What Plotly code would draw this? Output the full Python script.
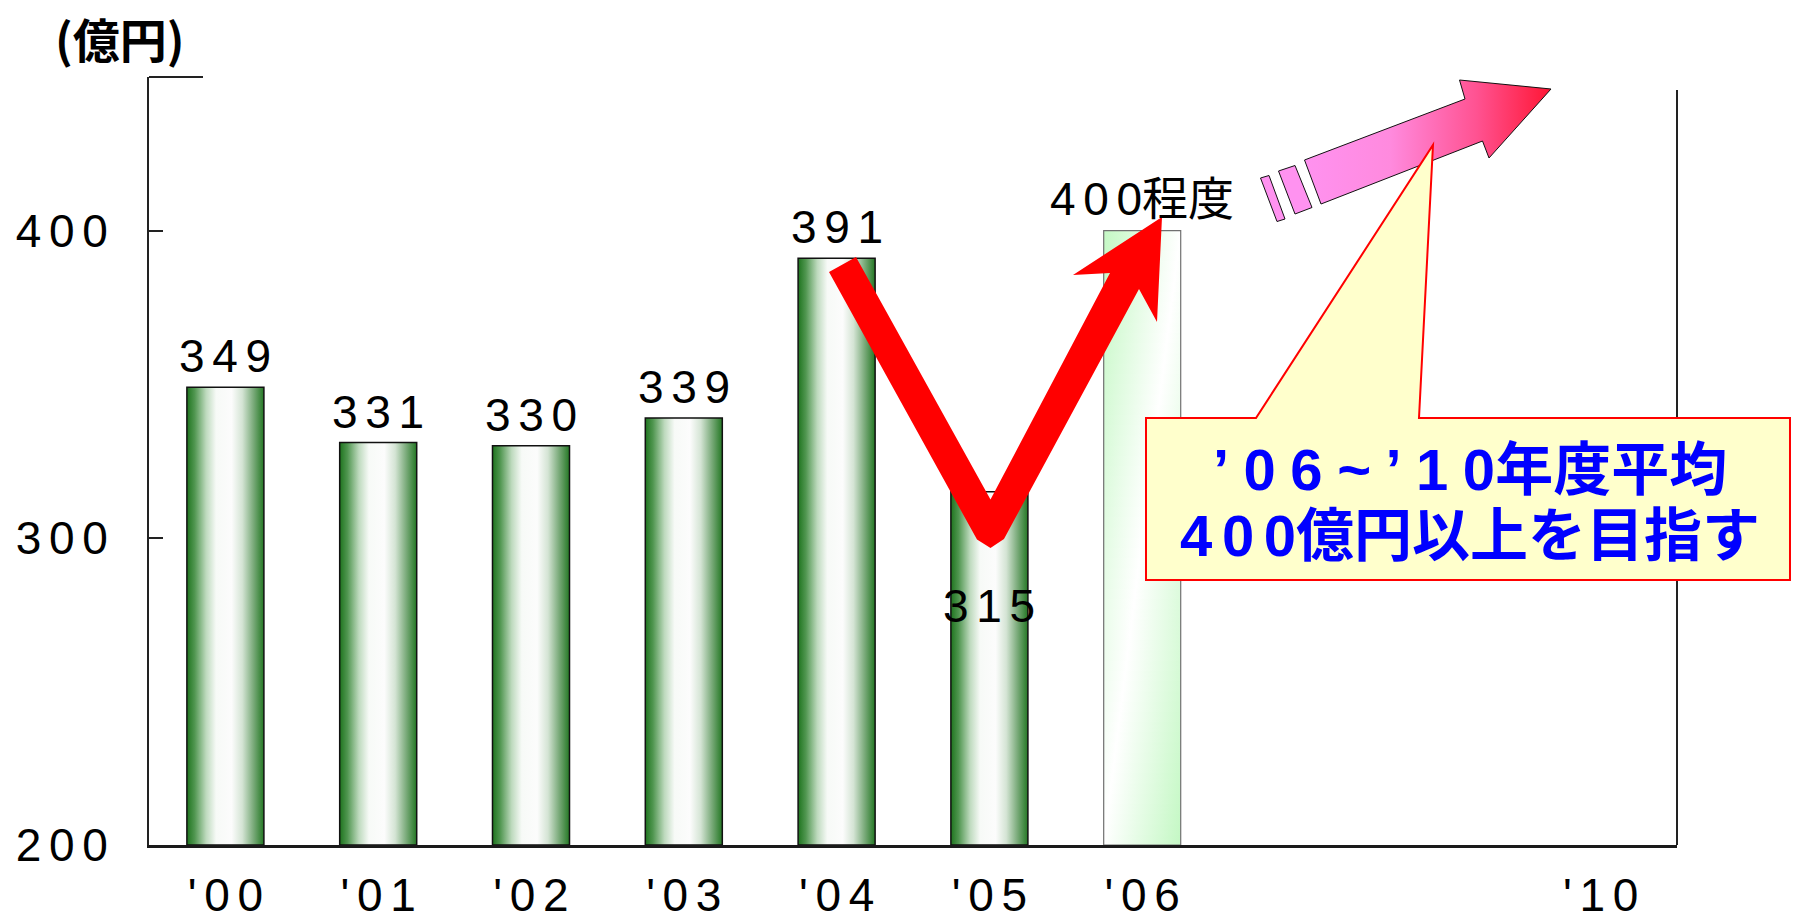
import plotly.graph_objects as go

# Fiscal-year sales (億円); '06 is the planned level
years = ["'00", "'01", "'02", "'03", "'04", "'05", "'06"]
sales = [349, 331, 330, 339, 391, 315, 400]
value_labels = ["349", "331", "330", "339", "391", "315", "400程度"]
# category slots on the x axis: '07-'09 left blank, '10 in the last slot
slot_labels = ["'00", "'01", "'02", "'03", "'04", "'05", "'06", "", "", "'10"]
y_ticks = [200, 300, 400]
unit_title = "(億円)"
callout_lines = ["’06~’10年度平均", "400億円以上を目指す"]

# label placement relative to bar top, in px (+ above, - below)
label_shift = [31, 31, 31, 31, 31, -114, 32]

FIG_W, FIG_H = 1793, 921
PLOT_L, PLOT_R, PLOT_T, PLOT_B = 149, 1677, 77, 845
X_RANGE = [-0.5, 9.5]
Y_RANGE = [200, 450]
BAR_HALF = 0.252

NUM_FONT = "Liberation Sans, Arial, Noto Sans CJK JP, sans-serif"
JP_FONT = "Noto Sans CJK JP, sans-serif"
SIX_PER_EM = "\u2006"
FOUR_PER_EM = "\u2005"


def is_wide(c):
    return "\u3000" <= c <= "\u9fff"


def spread(s, sp=SIX_PER_EM):
    """Open up narrow glyph runs the way the chart's digits are tracked."""
    out = ""
    for i, c in enumerate(s):
        if i > 0 and not is_wide(c) and not is_wide(s[i - 1]):
            out += sp
        out += c
    return out


def px_to_data(px, py):
    x = X_RANGE[0] + (px - PLOT_L) / (PLOT_R - PLOT_L) * (X_RANGE[1] - X_RANGE[0])
    y = Y_RANGE[0] + (PLOT_B - py) / (PLOT_B - PLOT_T) * (Y_RANGE[1] - Y_RANGE[0])
    return x, y


def px_to_paper(px, py):
    return (px - PLOT_L) / (PLOT_R - PLOT_L), (PLOT_B - py) / (PLOT_B - PLOT_T)


def paper_path(points):
    pts = [px_to_paper(*p) for p in points]
    return "M " + " L ".join(f"{x:.5f},{y:.5f}" for x, y in pts) + " Z"


GREEN_CS = [
    [0.00, "rgb(30,116,30)"],
    [0.10, "rgb(80,150,80)"],
    [0.25, "rgb(190,218,190)"],
    [0.38, "rgb(247,250,247)"],
    [0.58, "rgb(252,252,252)"],
    [0.72, "rgb(212,228,212)"],
    [0.87, "rgb(118,168,118)"],
    [1.00, "rgb(36,120,36)"],
]
PLAN_CS = [[0.0, "rgb(196,248,196)"], [0.5, "rgb(255,255,255)"], [1.0, "rgb(196,248,196)"]]
PINK_CS = [
    [0.0, "rgb(255,146,240)"],
    [0.35, "rgb(255,138,222)"],
    [0.70, "rgb(255,82,145)"],
    [1.0, "rgb(255,22,52)"],
]

fig = go.Figure()
base = Y_RANGE[0]

# actual years: cylinder-shaded bars
for i, v in enumerate(sales[:-1]):
    x0, x1 = i - BAR_HALF, i + BAR_HALF
    fig.add_trace(go.Scatter(
        x=[x0, x1, x1, x0, x0], y=[base, base, v, v, base],
        mode="lines", fill="toself",
        fillgradient=dict(type="horizontal", colorscale=GREEN_CS, start=x0, stop=x1),
        line=dict(color="#111111", width=1.5),
        hoverinfo="skip", showlegend=False,
    ))

# planned year: pale bar with a diagonal sheen, built from thin bands
i_plan = len(sales) - 1
v_plan = sales[-1]
x0, x1 = i_plan - BAR_HALF, i_plan + BAR_HALF
n_bands = 60
for k in range(n_bands):
    ya = base + (v_plan - base) * k / n_bands
    yb = min(v_plan, base + (v_plan - base) * (k + 1) / n_bands + 0.4)
    t = 1 - (k + 0.5) / n_bands
    xw = x1 - t * (x1 - x0)
    fig.add_trace(go.Scatter(
        x=[x0, x1, x1, x0, x0], y=[ya, ya, yb, yb, ya],
        mode="lines", fill="toself",
        fillgradient=dict(type="horizontal", colorscale=PLAN_CS,
                          start=xw - 2 * BAR_HALF, stop=xw + 2 * BAR_HALF),
        line=dict(width=0), hoverinfo="skip", showlegend=False,
    ))
fig.add_trace(go.Scatter(
    x=[x0, x1, x1, x0, x0], y=[base, base, v_plan, v_plan, base],
    mode="lines", line=dict(color="#707070", width=1.2),
    hoverinfo="skip", showlegend=False,
))

# pink arrow toward '10 (tail blocks + gradient body)
tail_blocks = [
    [(1260.5, 178), (1269, 175.5), (1285, 219), (1277, 221.5)],
    [(1278.5, 171), (1295, 165.5), (1312, 207.5), (1295, 214)],
]
for blk in tail_blocks:
    pts = [px_to_data(*p) for p in blk + blk[:1]]
    fig.add_trace(go.Scatter(
        x=[p[0] for p in pts], y=[p[1] for p in pts],
        mode="lines", fill="toself", fillcolor="rgb(255,146,240)",
        line=dict(color="#111111", width=1), hoverinfo="skip", showlegend=False,
    ))
body = [(1321, 204), (1304.5, 160), (1465, 99), (1459.5, 80), (1551, 89),
        (1489, 158), (1482.5, 141), (1321, 204)]
pts = [px_to_data(*p) for p in body]
fig.add_trace(go.Scatter(
    x=[p[0] for p in pts], y=[p[1] for p in pts],
    mode="lines", fill="toself",
    fillgradient=dict(type="horizontal", colorscale=PINK_CS,
                      start=px_to_data(1304, 0)[0], stop=px_to_data(1551, 0)[0]),
    line=dict(color="#111111", width=1), hoverinfo="skip", showlegend=False,
))

shapes = []
# right frame line and short top stub of the frame
rx, ry = px_to_paper(1677, 90)
shapes.append(dict(type="line", xref="paper", yref="paper", x0=rx, y0=ry, x1=rx, y1=0,
                   line=dict(color="#222222", width=2), layer="above"))
sx, _ = px_to_paper(203, 77)
shapes.append(dict(type="line", xref="paper", yref="paper", x0=0, y0=1, x1=sx, y1=1,
                   line=dict(color="#222222", width=2), layer="above"))

# callout balloon
balloon = [(1146, 418), (1256, 418), (1433, 145), (1419, 418), (1790, 418),
           (1790, 580), (1146, 580)]
shapes.append(dict(type="path", xref="paper", yref="paper", path=paper_path(balloon),
                   fillcolor="#ffffcc", line=dict(color="#ff0000", width=2), layer="above"))

# red V-shaped recovery arrow
v_arrow = [(829, 272), (977, 539.5), (990.5, 548), (1004, 539), (1139, 289),
           (1157, 322), (1162, 217), (1073, 275), (1110, 273), (990.5, 499.5),
           (856, 257)]
shapes.append(dict(type="path", xref="paper", yref="paper", path=paper_path(v_arrow),
                   fillcolor="#ff0000", line=dict(width=0), layer="above"))

annotations = []
for i, (v, lab, dy) in enumerate(zip(sales, value_labels, label_shift)):
    annotations.append(dict(
        x=i, y=v, xref="x", yref="y", text=spread(lab), showarrow=False,
        yshift=dy, xanchor="center", yanchor="middle",
        font=dict(family=NUM_FONT, size=46, color="#000000"),
    ))

tx, ty = px_to_paper(120, 37)
annotations.append(dict(
    x=tx, y=ty, xref="paper", yref="paper", text=f"<b>{unit_title}</b>", showarrow=False,
    xanchor="center", yanchor="middle",
    font=dict(family=JP_FONT, size=47, color="#000000"),
))

for line, cy, sp in zip(callout_lines, [469, 535], [FOUR_PER_EM, SIX_PER_EM]):
    cx, cyp = px_to_paper(1470, cy)
    annotations.append(dict(
        x=cx, y=cyp, xref="paper", yref="paper",
        text=f"<b>{spread(line, sp)}</b>",
        showarrow=False, xanchor="center", yanchor="middle",
        font=dict(family=NUM_FONT, size=58, color="#0000ff"),
    ))

fig.update_layout(
    width=FIG_W, height=FIG_H, autosize=False,
    margin=dict(l=PLOT_L, r=FIG_W - PLOT_R, t=PLOT_T, b=FIG_H - PLOT_B, pad=0),
    paper_bgcolor="white", plot_bgcolor="white",
    showlegend=False,
    shapes=shapes, annotations=annotations,
    xaxis=dict(
        range=X_RANGE, tickmode="array", tickvals=list(range(len(slot_labels))),
        ticktext=[spread(s) for s in slot_labels], ticks="", showgrid=False,
        zeroline=False, showline=True, linecolor="#1a1a1a", linewidth=2.5,
        tickfont=dict(family=NUM_FONT, size=46, color="#000000"),
        ticklabelstandoff=8, fixedrange=True, automargin=False,
    ),
    yaxis=dict(
        range=Y_RANGE, tickmode="array", tickvals=y_ticks,
        ticktext=[spread(str(t)) for t in y_ticks], ticks="inside", ticklen=14,
        tickwidth=1.5, tickcolor="#222222", showgrid=False, zeroline=False,
        showline=True, linecolor="#222222", linewidth=2,
        tickfont=dict(family=NUM_FONT, size=46, color="#000000"),
        ticklabelstandoff=30, fixedrange=True, automargin=False,
    ),
)

fig.write_html("out.html")
